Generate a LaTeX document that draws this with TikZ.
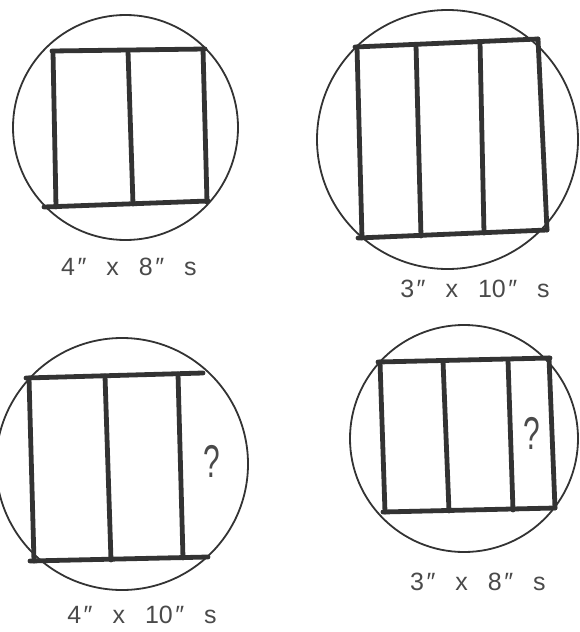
\documentclass[tikz,border=0pt]{standalone}
\usepackage{fontspec}
\newfontfamily\hand{Liberation Sans}
\definecolor{ink}{HTML}{333333}
\definecolor{pencil}{HTML}{4A4A4A}
\tikzset{
  ring/.style={draw=ink,line width=1.8pt},
  beam/.style={draw=ink,line width=4.8pt,line cap=round},
  lbl/.style={text=pencil,font=\hand\fontsize{25}{25}\selectfont,inner sep=0pt},
  qmark/.style={text=pencil,font=\hand\fontsize{46}{46}\selectfont,xscale=0.65,inner sep=0pt}
}
\newcommand{\gapx}{\hskip 0.8em}
\newcommand{\dq}{\hskip 0.1em″}
\begin{document}
\begin{tikzpicture}[x=1pt,y=-1pt]
\useasboundingbox (0,0) rectangle (579,632);
% circles
\coordinate (c1) at (125.5,127.5);
\coordinate (c2) at (447.5,139.5);
\coordinate (c3) at (122,464);
\coordinate (c4) at (464,438.5);
\draw[ring] (c1) ellipse [x radius=112.5, y radius=112.5];
\draw[ring] (c2) ellipse [x radius=130.5, y radius=129.5];
\draw[ring] (c3) ellipse [x radius=126, y radius=126];
\draw[ring] (c4) ellipse [x radius=114, y radius=113.5];
% frame 1
\draw[beam] (52,51) -- (205,49);
\draw[beam] (44,207) -- (208,201);
\draw[beam] (53,52) -- (56,207);
\draw[beam] (128,51) -- (133,204);
\draw[beam] (203,49) -- (207,202);
% frame 2
\draw[beam] (355,47) -- (538,39);
\draw[beam] (358,238) -- (547,230);
\draw[beam] (357,47) -- (362,238);
\draw[beam] (416,45) -- (421,236);
\draw[beam] (480,42) -- (484,233);
\draw[beam] (538,39) -- (547,230);
% frame 3
\draw[beam] (26,378) -- (203,373);
\draw[beam] (30,561) -- (208,557);
\draw[beam] (29,378) -- (34,561);
\draw[beam] (105,376) -- (111,560);
\draw[beam] (178,374) -- (183,558);
% frame 4
\draw[beam] (378,362) -- (550,358);
\draw[beam] (383,512) -- (555,508);
\draw[beam] (380,362) -- (385,512);
\draw[beam] (443,361) -- (449,511);
\draw[beam] (508,360) -- (513,510);
\draw[beam] (549,358) -- (555,508);
% question marks
\node[qmark] (q3) at (212,461) {?};
\node[qmark] (q4) at (532,433) {?};
% labels
\node[lbl] (l1) at (129,267) {4\dq\gapx x\gapx 8\dq\gapx s};
\node[lbl] (l2) at (475,289) {3\dq\gapx x\gapx 10\dq\gapx s};
\node[lbl] (l3) at (142,615) {4\dq\gapx x\gapx 10\dq\gapx s};
\node[lbl] (l4) at (478,582) {3\dq\gapx x\gapx 8\dq\gapx s};
\end{tikzpicture}
\end{document}
